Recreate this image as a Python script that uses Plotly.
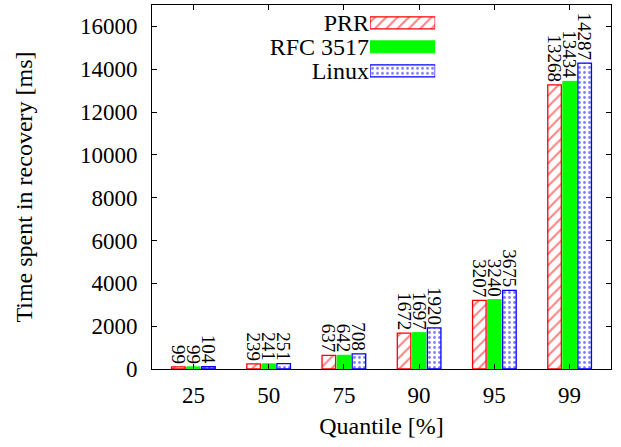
import plotly.graph_objects as go

categories = ["25", "50", "75", "90", "95", "99"]
prr = [99, 239, 637, 1672, 3207, 13268]
rfc3517 = [99, 241, 642, 1697, 3240, 13434]
linux = [104, 251, 708, 1920, 3675, 14287]
series_names = ["PRR", "RFC 3517", "Linux"]
y_ticks = [0, 2000, 4000, 6000, 8000, 10000, 12000, 14000, 16000]

FONT = "Liberation Serif"
RED, GREEN, BLUE = "#ff0000", "#00ff00", "#0000ff"

styles = {
    "PRR": dict(color="white", line=dict(color=RED, width=1.3),
                pattern=dict(shape="/", fgcolor=RED, bgcolor="white", size=8, solidity=0.25)),
    "RFC 3517": dict(color=GREEN, line=dict(color=GREEN, width=1)),
    "Linux": dict(color="white", line=dict(color=BLUE, width=1.3),
                  pattern=dict(shape=".", fgcolor=BLUE, bgcolor="white", size=5, solidity=0.25)),
}

fig = go.Figure()
xs = list(range(len(categories)))
for name, vals in zip(series_names, [prr, rfc3517, linux]):
    fig.add_trace(go.Bar(
        x=xs, y=vals, name=name, marker=styles[name],
        text=[str(v) for v in vals], textposition="outside", textangle=90,
        textfont=dict(family=FONT, size=19, color="black"),
        constraintext="none", cliponaxis=False, showlegend=False,
    ))

# legend key drawn gnuplot-style (text left, sample right) on an overlay axis
for name in series_names:
    fig.add_trace(go.Bar(
        x=[1], y=[name], orientation="h", marker=styles[name],
        xaxis="x2", yaxis="y2", showlegend=False, width=0.5, hoverinfo="skip",
    ))

fig.update_layout(
    width=621, height=447,
    margin=dict(l=152, r=10, t=5, b=78, autoexpand=False),
    paper_bgcolor="white", plot_bgcolor="white",
    barmode="group", bargap=0.4, bargroupgap=0.1,
    font=dict(family=FONT, size=23, color="black"),
    xaxis=dict(
        range=[-0.55, 5.55], tickvals=xs, ticktext=categories, automargin=False,
        showline=True, linecolor="black", linewidth=1, mirror="allticks",
        ticks="inside", ticklen=5, tickcolor="black", showgrid=False, zeroline=False,
        title=dict(text="Quantile [%]", font=dict(family=FONT, size=24), standoff=10),
        tickfont=dict(family=FONT, size=23), ticklabelstandoff=5,
    ),
    yaxis=dict(
        range=[0, 17000], tickvals=y_ticks, ticktext=[str(v) for v in y_ticks],
        automargin=False,
        showline=True, linecolor="black", linewidth=1, mirror="allticks",
        ticks="inside", ticklen=5, tickcolor="black", showgrid=False, zeroline=False,
        title=dict(text="Time spent in recovery [ms]", font=dict(family=FONT, size=24), standoff=40),
        tickfont=dict(family=FONT, size=23), ticklabelstandoff=9,
    ),
    xaxis2=dict(domain=[0.475, 0.617], range=[0, 1], anchor="y2",
                visible=False, fixedrange=True),
    yaxis2=dict(domain=[0.786, 0.984], anchor="x2", automargin=False,
                type="category", categoryorder="array", categoryarray=series_names[::-1],
                tickmode="array", tickvals=series_names, ticktext=series_names,
                showline=False, showgrid=False, zeroline=False, ticks="",
                tickfont=dict(family=FONT, size=24), ticklabelstandoff=0, fixedrange=True),
)

fig.write_html("out.html", config={"displayModeBar": False},
               post_script="document.body.style.margin='0';")
